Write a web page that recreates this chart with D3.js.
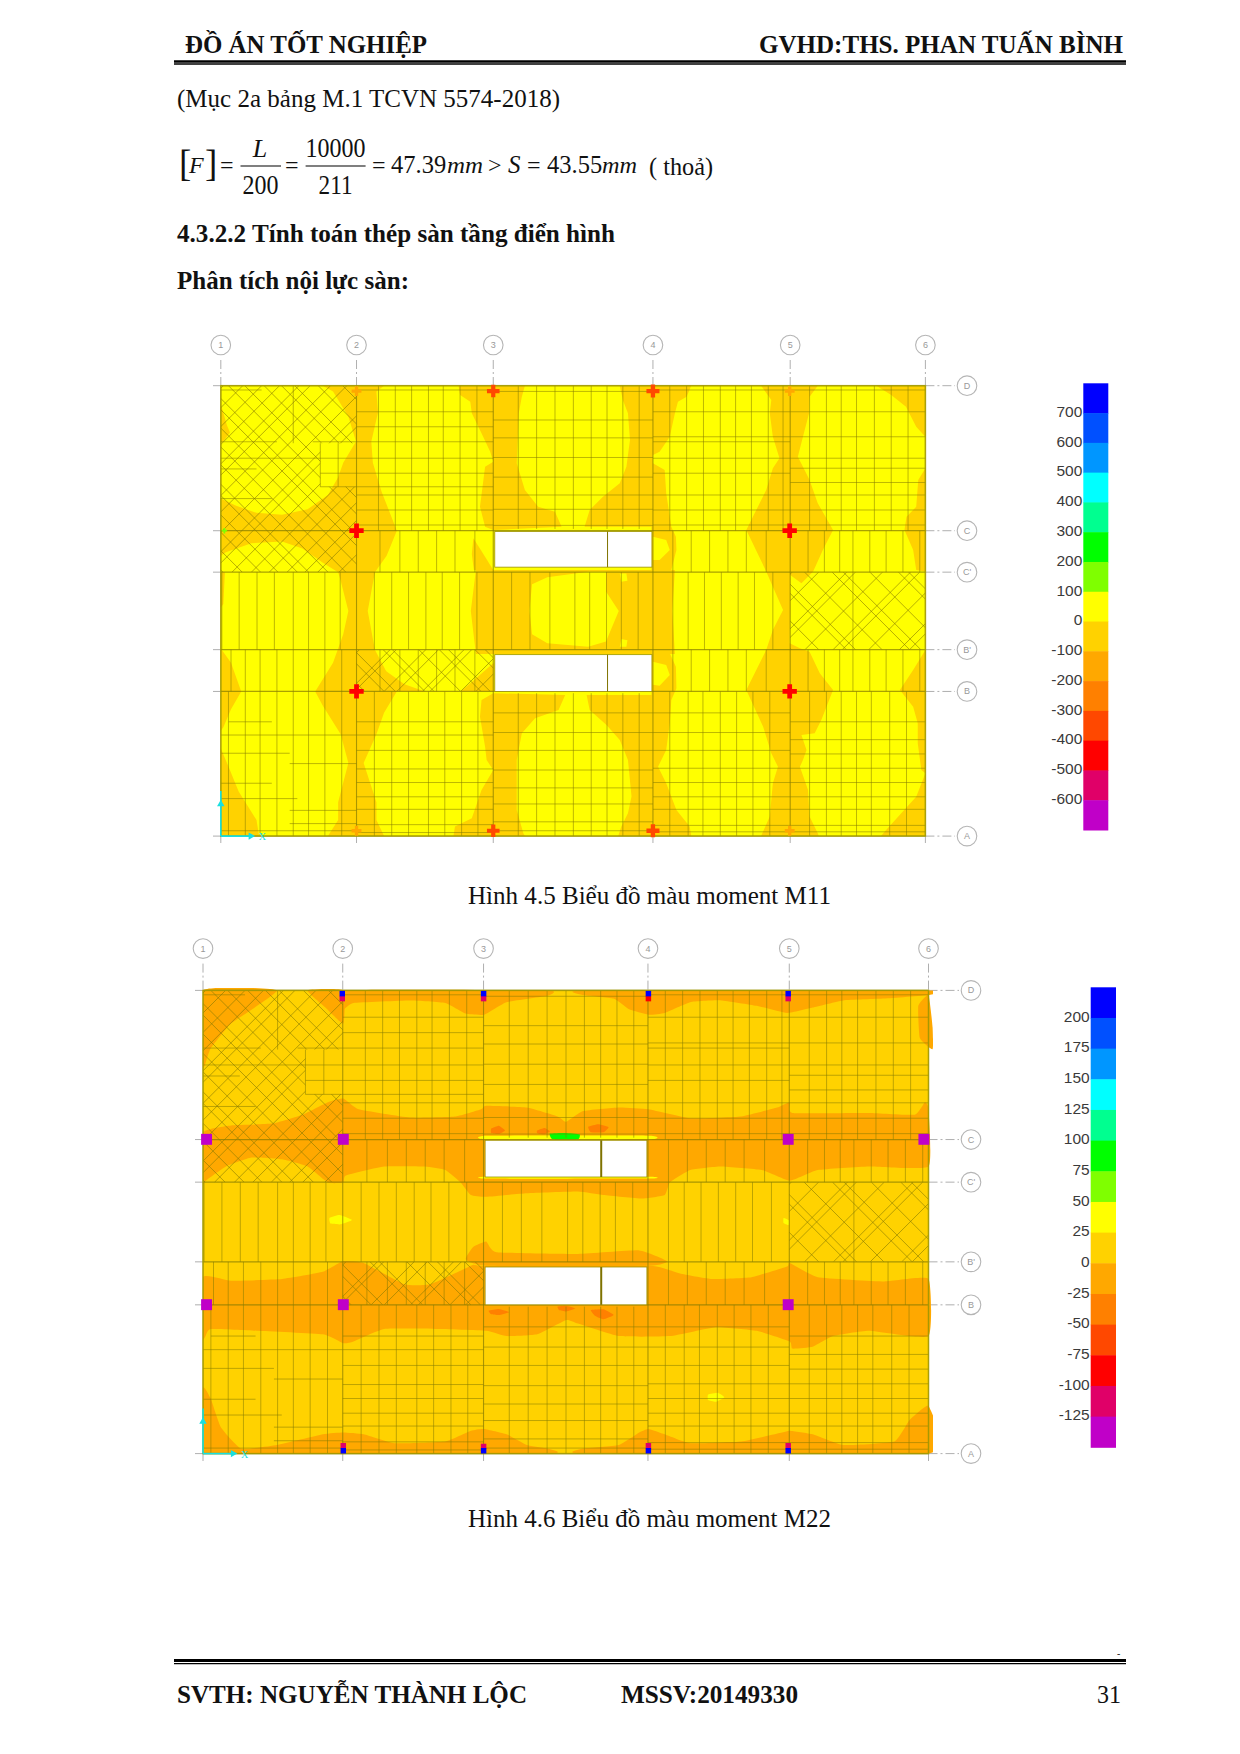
<!DOCTYPE html>
<html>
<head>
<meta charset="utf-8">
<title>Biểu đồ màu moment</title>
<script src="https://cdn.jsdelivr.net/npm/d3@7"></script>
<style>
  body { margin: 0; background: #fff; }
  text { font-family: "Liberation Serif", serif; fill: #111; }
  .legend text { font-family: "Liberation Sans", sans-serif; fill: #3a3a3a; }
  .bubble text { font-family: "Liberation Sans", sans-serif; fill: #999; }
</style>
</head>
<body>
<div id="page"></div>
<script>
// legend bands, blue at the top, magenta at the bottom
var bandColors = ["#0000ff","#0050ff","#0096ff","#00ffff","#00ff90","#00ff00","#7fff00","#ffff00","#ffd200","#ffa800","#ff8000","#ff4800","#ff0000","#e00068","#c000c8"];
var m11Ticks = [700,600,500,400,300,200,100,0,-100,-200,-300,-400,-500,-600];
var m22Ticks = [200,175,150,125,100,75,50,25,0,-25,-50,-75,-100,-125];

var xGridNames = ["1","2","3","4","5","6"];
var yGridNames = ["D","C","C'","B'","B","A"];

// plan units below are about 3cm, origin at grid A/1
var gridX = [0,266,534,847,1116,1381];
var gridY = [1261,855,739,522,405,0];
var openings = [[537,753,845,853],[537,405,845,508]];
var mullionX = 758;

// M11 contours, band -100..0 on a 0..100 background
var m11Orange = [
  [[200,1261],[320,1261],[305,1245],[308,1185],[295,1105],[298,1045],[315,965],[345,855],[325,785],[302,739],[288,630],[302,522],[345,405],[320,345],[305,285],[280,205],[305,95],[305,45],[320,0],[210,0],[230,45],[230,95],[250,205],[235,285],[200,365],[185,405],[220,485],[240,565],[250,630],[235,715],[230,739],[200,765],[160,805],[120,825],[60,820],[10,795],[0,785],[0,945],[30,925],[70,905],[120,900],[170,915],[210,955],[230,1005],[240,1045],[265,1105],[250,1175],[220,1245]],
  [[265,522],[360,425],[400,405],[265,405]],
  [[535,485],[495,435],[470,405],[535,405]],
  [[0,0],[75,0],[70,45],[35,125],[15,195],[0,245]],
  [[0,525],[20,485],[40,405],[20,355],[5,305],[0,295]],
  [[0,739],[8,739],[5,650],[0,640]],
  [[0,1210],[12,1150],[18,1130],[8,1110],[0,1100]],
  [[466,1261],[469,1235],[489,1216],[492,1184],[511,1128],[528,1076],[534,1048],[518,1034],[508,922],[518,866],[534,857],[668,866],[655,908],[622,922],[596,969],[580,1044],[584,1184],[590,1230],[596,1261]],
  [[495,834],[510,800],[534,745],[496,745],[492,790]],
  [[782,1261],[922,1261],[913,1230],[896,1216],[890,1184],[880,1118],[860,1076],[847,1067],[847,1044],[870,1025],[873,960],[883,866],[892,838],[893,801],[883,745],[844,745],[844,866],[713,866],[723,913],[749,950],[782,988],[795,1034],[802,1109],[798,1184],[788,1221]],
  [[500,745],[890,745],[885,630],[890,510],[500,510],[490,630]],
  [[534,400],[675,395],[662,353],[616,330],[590,288],[580,213],[580,73],[593,8],[596,0],[456,0],[459,27],[492,50],[511,129],[534,185],[521,213],[518,250],[508,334],[511,381]],
  [[717,395],[723,353],[756,311],[782,269],[798,213],[805,111],[798,64],[785,27],[779,0],[922,0],[919,27],[893,73],[873,148],[857,194],[873,241],[880,316],[883,381],[893,414],[892,474],[880,512],[844,512],[844,395]],
  [[1170,1261],[1154,1230],[1153,1184],[1141,1118],[1131,1062],[1154,997],[1170,932],[1200,857],[1180,801],[1161,741],[1138,708],[1116,731],[1116,633],[1115,540],[1135,526],[1154,516],[1174,456],[1200,409],[1177,325],[1164,288],[1138,283],[1148,241],[1141,213],[1135,194],[1151,129],[1154,55],[1170,8],[1172,0],[1059,0],[1076,55],[1082,148],[1092,194],[1079,232],[1063,306],[1030,409],[1069,521],[1082,577],[1102,633],[1082,698],[1069,741],[1030,857],[1069,969],[1082,1030],[1095,1058],[1082,1118],[1076,1184],[1079,1221],[1059,1261]],
  [[1285,1261],[1381,1261],[1381,1118],[1363,1146],[1343,1202],[1314,1235]],
  [[1381,1030],[1367,997],[1363,922],[1344,894],[1340,857],[1357,801],[1363,745],[1381,741]],
  [[1381,521],[1357,465],[1331,409],[1357,362],[1366,316],[1366,260],[1373,185],[1381,176]],
  [[1381,176],[1363,110],[1304,17],[1294,0],[1381,0]]
];
// pockets that go back to the 0..100 band
var m11Yellow = [
  [[610,705],[640,725],[720,740],[755,740],[755,685],[780,630],[755,545],[720,530],[640,540],[610,565],[605,630]],
  [[847,838],[873,829],[880,801],[860,773],[847,773]],
  [[847,488],[873,479],[880,451],[860,421],[847,424]],
  [[782,735],[795,735],[797,715],[785,712]],
  [[782,530],[795,530],[797,548],[785,552]]
];
// moment peaks at the columns [x, y, value]
var m11Peaks = [[266,855,-450],[1115,855,-450],[266,405,-450],[1115,405,-450],
  [534,1246,-320],[847,1246,-350],[534,15,-320],[847,15,-350],
  [266,1246,-150],[1115,1246,-150],[266,15,-150],[1115,15,-150],
  [7,855,150]];

// M22 contours in the second drawing's own units (0..1422, 0..1297)
var m22Orange = [
  [[0,899],[55,919],[135,924],[195,949],[245,984],[275,994],[305,964],[405,941],[495,944],[545,964],[555,974],[635,969],[695,944],[712,929],[745,959],[815,969],[873,964],[955,939],[1055,944],[1125,969],[1150,984],[1155,954],[1305,954],[1395,949],[1415,984],[1422,964],[1422,804],[1305,804],[1205,794],[1150,764],[1095,794],[1015,804],[955,794],[915,759],[905,724],[860,714],[785,724],[735,734],[635,729],[555,719],[525,724],[505,759],[475,794],[435,804],[355,804],[280,779],[275,759],[245,759],[205,804],[155,824],[95,829],[45,804],[5,764],[0,759]],
  [[0,494],[55,484],[155,489],[235,509],[275,539],[315,534],[395,474],[445,474],[515,519],[530,529],[555,526],[875,526],[935,504],[995,489],[1075,494],[1145,524],[1150,534],[1205,494],[1335,482],[1422,489],[1422,329],[1305,344],[1235,329],[1195,299],[1155,294],[1150,314],[1085,344],[1005,354],[915,329],[815,329],[735,364],[712,374],[655,334],[595,329],[555,344],[455,349],[355,349],[295,314],[275,309],[235,334],[105,344],[15,349],[5,329],[0,324]],
  [[515,544],[530,579],[555,594],[575,564],[735,559],[855,569],[910,539],[875,526],[555,526]],
  [[275,1297],[675,1297],[675,1282],[595,1264],[551,1229],[515,1232],[475,1262],[405,1269],[295,1262],[275,1244]],
  [[745,1297],[1422,1297],[1422,1284],[1335,1274],[1255,1269],[1195,1249],[1145,1234],[1085,1254],[1015,1269],[955,1264],[905,1234],[873,1229],[835,1244],[805,1274],[745,1284]],
  [[0,1297],[145,1297],[55,1204],[15,1134],[5,1094],[0,1084]],
  [[205,1297],[275,1297],[275,1204],[240,1249]],
  [[1402,1254],[1422,1284],[1430,1194],[1430,1132],[1405,1164]],
  [[0,184],[15,154],[35,74],[75,14],[145,24],[235,54],[275,59],[315,54],[375,29],[475,34],[525,64],[551,69],[595,54],[635,24],[675,14],[675,0],[0,0]],
  [[745,0],[745,14],[815,24],[855,59],[873,69],[905,54],[955,29],[1055,34],[1135,59],[1150,64],[1195,54],[1255,24],[1355,34],[1385,94],[1422,134],[1422,0]]
];
// small patches around the openings and mid spans: value then outline
var m22PatchValues = [30,30,30,-40,-40,-40,-40,-40,-40,40,40,90];
var m22Patches = [
  [[248,660],[268,668],[292,654],[270,642],[250,644]],
  [[990,165],[1010,170],[1022,158],[1005,145],[990,150]],
  [[1138,660],[1148,654],[1148,640],[1138,646]],
  [[565,910],[580,918],[592,905],[580,895],[565,897]],
  [[655,905],[670,912],[680,902],[668,894],[655,897]],
  [[755,915],[775,922],[795,914],[785,900],[760,900]],
  [[560,400],[580,405],[600,396],[580,388],[565,390]],
  [[695,412],[712,414],[730,406],[712,398],[698,402]],
  [[760,402],[785,404],[805,388],[785,376],[768,386]],
  [[555,890],[875,890],[875,880],[555,880]],
  [[555,775],[875,775],[875,770],[555,770]],
  [[680,896],[710,898],[738,894],[735,880],[685,880]]
];
var m22BigPeaks = [[7,880,-130],[275,880,-130],[1147,880,-130],[1413,880,-130],[7,417,-130],[275,417,-130],[1147,417,-130]];
var m22SmallPeaks = [[273,1274,-110],[550,1274,-110],[873,1274,-90],[1147,1274,-120],[273,1288,220],[550,1288,220],[873,1288,220],[1147,1288,220],
  [275,22,-120],[550,20,-120],[873,22,-110],[1147,22,-120],[275,8,220],[550,8,220],[873,8,200],[1147,8,220]];

// slab strips: vertical lines [x, y0, y1], horizontal lines [y, x0, x1]
function col(xs, y0, y1) { return xs.map(function(x){ return [x, y0, y1]; }); }
function row(ys, x0, x1) { return ys.map(function(y){ return [y, x0, x1]; }); }
var meshV = [].concat(
  col([2,36,71,105,142,172,204,234,301,335,368,402,434,468,502,570,606,645,694,723,756,785,818,886,916,948,981,1014,1046,1082],522,739),
  col([312,351,387,423,459,498,886,922,958,994,1030,1069,1151,1183,1213,1239,1272,1304,1337,1370],739,855),
  col([312,351,387,423,459,498,886,922,958,994,1030,1069,1151,1183,1213,1239,1272,1304,1337,1370],405,522),
  col([20,48,77,110,142,172,204,237],405,522),
  col([309,342,374,407,436,469,502],855,1261),
  col([583,619,655,691,726,757,788,820],860,1261),
  col([880,913,946,979,1009,1040,1073,1102,1154,1187,1216,1246,1281,1314,1347],855,1261),
  col([142],1100,1261),
  col([195,230],978,1100),
  col([15,48,77,110,142,172,204,237],0,405),
  col([301,335,368,407,439,472,504],0,405),
  col([583,619,655,691,726,757,788,820],0,400),
  col([880,916,945,979,1011,1043,1076,1154,1187,1216,1246,1275,1311,1344],0,405),
  col([1239],522,739)
);
var meshH = [].concat(
  row([1249,1188,1146,1104,1058,1016,978,955,913,871],266,534),
  row([1245,1165,1115,1060,1005,955,915,870],534,847),
  row([1249,1188,1118,1104,1058,1016,955,913,871],847,1116),
  row([1249,1188,1118,1058,1030,990,955,913,871],1116,1381),
  row([1249],0,80),
  row([1104],0,110),row([1104],180,266),row([1058],0,266),row([1028],0,70),row([1016,978],195,266),row([945],0,100),
  row([320,283,240,188,150,110,75,32,10],266,534),
  row([345,290,240,185,135,90,40,15],534,847),
  row([345,290,240,190,150,110,75,30,12],847,1116),
  row([320,270,230,190,150,110,75,30,12],1116,1381),
  row([320],15,100),row([283],0,266),row([232],0,135),row([203],135,266),row([148],0,100),row([105],0,150),row([72],135,266),row([35],135,266),row([15],0,266)
);

// cross bracing mesh: x where each diagonal meets the panel's lower edge
var hatchPanels = [
  { box: [0,739,266,1261], hole: [195,978,266,1100],
    up: [-360,-322,-285,-250,-212,-190,-150,-118,-78,-40,-18,22,60,95,130,165,190,232],
    down: [4,42,78,112,150,172,210,245,282,318,340,380,412,450,484,510,556,604] },
  { box: [266,405,534,522], hole: null,
    up: [190,250,262,320,345,395,410,470,500],
    down: [268,282,320,342,400,418,470,510,528,580,600] },
  { box: [1116,522,1381,739], hole: null,
    up: [968,1020,1075,1092,1145,1200,1218,1270,1330,1350],
    down: [1118,1172,1226,1244,1296,1350,1372,1424,1480,1500] }
];
var hatchSlope = 1.43;

// page text
var headerLeft = "ĐỒ ÁN TỐT NGHIỆP", headerRight = "GVHD:THS. PHAN TUẤN BÌNH";
var noteLine = "(Mục 2a bảng M.1 TCVN 5574-2018)";
var heading1 = "4.3.2.2 Tính toán thép sàn tầng điển hình", heading2 = "Phân tích nội lực sàn:";
var caption1 = "Hình 4.5 Biểu đồ màu moment M11", caption2 = "Hình 4.6 Biểu đồ màu moment M22";
var footerName = "SVTH: NGUYỄN THÀNH LỘC", footerId = "MSSV:20149330", pageNumber = "31";

var svg = d3.select("#page").append("svg").attr("width",1240).attr("height",1754).style("display","block");
svg.append("rect").attr("width",1240).attr("height",1754).attr("fill","#fff");

function txt(s, x, y, size, o) {
  o = o || {};
  var t = svg.append("text").attr("x",x).attr("y",y).attr("font-size",size).text(s);
  if (o.bold) t.attr("font-weight","bold");
  if (o.italic) t.attr("font-style","italic");
  if (o.anchor) t.attr("text-anchor",o.anchor);
  if (o.len) t.attr("textLength",o.len).attr("lengthAdjust","spacingAndGlyphs");
  return t;
}

function rule(y, w) {
  svg.append("line").attr("x1",174).attr("x2",1126).attr("y1",y).attr("y2",y).attr("stroke","#000").attr("stroke-width",w);
}

// header and footer
txt(headerLeft,185,53,25.5,{bold:true,len:242});
txt(headerRight,759,53,25.5,{bold:true,len:364});
rule(61.5,2.4); rule(64,1.3);
rule(1660.5,3); rule(1663.7,1.3);
txt(footerName,177,1703,25.5,{bold:true,len:350});
txt(footerId,621,1703,25.5,{bold:true,len:177});
txt(pageNumber,1097,1703,25.5,{len:24});
txt("-",1117,1657,10);

// body text
txt(noteLine,177,107,25.5,{len:383});
txt(heading1,177,242,25.5,{bold:true,len:438});
txt(heading2,177,289,25.5,{bold:true,len:232});
txt(caption1,468,904,25.5,{len:363});
txt(caption2,468,1527,25.5,{len:363});

// formula
txt("[",179,176,37);
txt("F",189,173,24,{italic:true});
txt("]",205,176,37);
txt("=",220,173,24);
txt("L",260,157,26,{italic:true,anchor:"middle"});
svg.append("line").attr("x1",240.5).attr("x2",281).attr("y1",166).attr("y2",166).attr("stroke","#000").attr("stroke-width",1.2);
txt("200",260.5,194,27,{anchor:"middle",len:36});
txt("=",285,173,24);
txt("10000",335.6,157,27,{anchor:"middle",len:60});
svg.append("line").attr("x1",305.6).attr("x2",365.6).attr("y1",166).attr("y2",166).attr("stroke","#000").attr("stroke-width",1.2);
txt("211",335.6,194,27,{anchor:"middle",len:34});
txt("=",372,173,24);
txt("47.39",391,173,24.5);
txt("mm",447,173,24,{italic:true,len:36});
txt(">",488,173,24);
txt("S",508,173,25,{italic:true});
txt("=",527,173,24);
txt("43.55",547,173,24.5);
txt("mm",602,173,24,{italic:true,len:35});
txt("( thoả)",649,175,25.5,{len:64});

var area = d3.line().curve(d3.curveLinearClosed);
var smooth = d3.line().curve(d3.curveCardinalClosed.tension(0.6));

function gridBubbles(g, x, y, topY, rightX, lowY, leftX) {
  var grid = g.append("g").attr("fill","none").attr("stroke","#9a9a9a").attr("stroke-width",0.8);
  gridX.forEach(function(v){
    grid.append("line").attr("x1",x(v)).attr("x2",x(v)).attr("y1",topY+15).attr("y2",y(gridY[0])).attr("stroke-dasharray","9,3,2,3");
    grid.append("line").attr("x1",x(v)).attr("x2",x(v)).attr("y1",y(0)).attr("y2",lowY);
  });
  gridY.forEach(function(v){
    grid.append("line").attr("x1",x(gridX[5])).attr("x2",rightX-12).attr("y1",y(v)).attr("y2",y(v)).attr("stroke-dasharray","9,3,2,3");
    grid.append("line").attr("x1",leftX).attr("x2",x(0)).attr("y1",y(v)).attr("y2",y(v));
  });
  var b = g.append("g").attr("class","bubble");
  gridX.forEach(function(v,i){
    b.append("circle").attr("cx",x(v)).attr("cy",topY).attr("r",9.8).attr("fill","#fff").attr("stroke","#b5b5b5").attr("stroke-width",1.1);
    b.append("text").attr("x",x(v)).attr("y",topY+3).attr("text-anchor","middle").attr("font-size",9).text(xGridNames[i]);
  });
  gridY.forEach(function(v,i){
    b.append("circle").attr("cx",rightX).attr("cy",y(v)).attr("r",9.8).attr("fill","#fff").attr("stroke","#b5b5b5").attr("stroke-width",1.1);
    b.append("text").attr("x",rightX).attr("y",y(v)+3).attr("text-anchor","middle").attr("font-size",9).text(yGridNames[i]);
  });
}

function drawMesh(g, x, y, id) {
  var line = function(sel, x1, y1, x2, y2, w) {
    sel.append("line").attr("x1",x(x1)).attr("y1",y(y1)).attr("x2",x(x2)).attr("y2",y(y2)).attr("stroke-width",w);
  };
  var m = g.append("g").attr("stroke","#857a00").attr("stroke-opacity",0.6).attr("fill","none");
  meshV.forEach(function(d){ line(m,d[0],d[1],d[0],d[2],0.9); });
  meshH.forEach(function(d){ line(m,d[1],d[0],d[2],d[0],0.9); });

  hatchPanels.forEach(function(p,i){
    var b = p.box, cid = id+"-hatch"+i;
    var pts = [[b[0],b[1]],[b[2],b[1]],[b[2],b[3]],[b[0],b[3]]];
    if (p.hole) {
      var h = p.hole;
      pts = [[b[0],b[1]],[b[2],b[1]],[h[2],h[1]],[h[0],h[1]],[h[0],h[3]],[h[2],h[3]],[b[2],b[3]],[b[0],b[3]]];
    }
    g.append("clipPath").attr("id",cid).append("path")
      .attr("d",d3.line()(pts.map(function(q){ return [x(q[0]),y(q[1])]; }))+"Z");
    var hg = m.append("g").attr("clip-path","url(#"+cid+")");
    var dy = b[3]-b[1];
    p.up.forEach(function(x0){ line(hg,x0,b[1],x0+dy/hatchSlope,b[3],1); });
    p.down.forEach(function(x0){ line(hg,x0,b[1],x0-dy/hatchSlope,b[3],1); });
  });

  // grid lines and slab edge sit on top, a bit heavier
  var e = g.append("g").attr("stroke","#857a00").attr("stroke-opacity",0.7).attr("fill","none");
  gridX.forEach(function(v){ line(e,v,0,v,gridY[0],1.1); });
  gridY.forEach(function(v){ line(e,0,v,gridX[5],v,1.2); });
  e.append("rect").attr("x",x(0)).attr("y",y(gridY[0])).attr("width",x(gridX[5])-x(0)).attr("height",y(0)-y(gridY[0])).attr("stroke","#a8a000").attr("stroke-width",1.6);
}

function drawOpenings(g, x, y, w) {
  openings.forEach(function(o){
    g.append("rect").attr("x",x(o[0])).attr("y",y(o[3])).attr("width",x(o[2])-x(o[0])).attr("height",y(o[1])-y(o[3]))
      .attr("fill","#fff").attr("stroke","#9a9000").attr("stroke-width",0.8);
    g.append("line").attr("x1",x(mullionX)).attr("x2",x(mullionX)).attr("y1",y(o[3])).attr("y2",y(o[1])).attr("stroke","#7f7300").attr("stroke-width",w);
  });
}

function drawPeaks(g, data, x, y, color, type, size) {
  g.selectAll(null).data(data).enter().append("path")
    .attr("transform",function(d){ return "translate("+x(d[0])+","+y(d[1])+")"; })
    .attr("d",function(d){ return d3.symbol().type(type).size(size(d[2]))(); })
    .attr("fill",function(d){ return color(d[2]); });
}

function drawAxesGlyph(g, x, y) {
  var c = "#19dfe0", ox = x(0), oy = y(0);
  g.append("line").attr("x1",ox).attr("x2",ox).attr("y1",oy).attr("y2",oy-45).attr("stroke",c).attr("stroke-width",1.6);
  g.append("line").attr("x1",ox).attr("x2",ox+32).attr("y1",oy).attr("y2",oy).attr("stroke",c).attr("stroke-width",1.6);
  g.append("path").attr("d",d3.symbol().type(d3.symbolTriangle).size(24)()).attr("transform","translate("+ox+","+(oy-32)+")").attr("fill",c);
  g.append("path").attr("d",d3.symbol().type(d3.symbolTriangle).size(24)()).attr("transform","translate("+(ox+30)+","+oy+") rotate(90)").attr("fill",c);
  g.append("text").attr("x",ox+38).attr("y",oy+4).attr("font-size",10).style("fill",c).text("X");
}

function legend(ticks, top, bottom, left, right, hi, lo) {
  var y = d3.scaleLinear().domain([hi,lo]).range([top,bottom]);
  var step = ticks[0]-ticks[1];
  var g = svg.append("g").attr("class","legend");
  g.selectAll("rect").data(bandColors).enter().append("rect")
    .attr("x",left).attr("width",right-left)
    .attr("y",function(d,i){ return y(hi-i*step); })
    .attr("height",function(d,i){ return y(hi-(i+1)*step)-y(hi-i*step)+0.5; })
    .attr("fill",function(d){ return d; });
  var axis = d3.axisLeft(y).tickValues(ticks).tickSize(0).tickPadding(1).tickFormat(String);
  g.append("g").attr("transform","translate("+left+",-1.7)").call(axis)
    .call(function(s){ s.select(".domain").remove(); s.selectAll("text").attr("font-size",15.5).attr("font-family",null); });
}

// colours for each contour follow the legend of that drawing
function bandScale(ticks) {
  return d3.scaleThreshold().domain(ticks.slice().reverse()).range(bandColors.slice().reverse());
}

/* --- M11 --- */
var x11 = d3.scaleLinear().domain([0,1381]).range([220.8,925.4]);
var y11 = d3.scaleLinear().domain([0,1261]).range([836.1,385.7]);
var c11 = bandScale(m11Ticks);
var g11 = svg.append("g");
gridBubbles(g11,x11,y11,345,967,843,213);
g11.append("rect").attr("x",x11(0)).attr("y",y11(1261)).attr("width",x11(1381)-x11(0)).attr("height",y11(0)-y11(1261)).attr("fill",c11(50));
g11.selectAll("path.o").data(m11Orange).enter().append("path").attr("class","o")
  .attr("d",function(d){ return area(d.map(function(p){ return [x11(p[0]),y11(p[1])]; })); }).attr("fill",c11(-50));
g11.selectAll("path.y").data(m11Yellow).enter().append("path").attr("class","y")
  .attr("d",function(d){ return area(d.map(function(p){ return [x11(p[0]),y11(p[1])]; })); }).attr("fill",c11(50));
drawMesh(g11,x11,y11,"m11");
drawOpenings(g11,x11,y11,1);
drawPeaks(g11,m11Peaks,x11,y11,c11,d3.symbolCross,function(v){ return v > 0 ? 16 : 24+Math.abs(v)*0.2; });
drawAxesGlyph(g11,x11,y11);
legend(m11Ticks,383.3,830,1083.3,1108.3,800,-700);

/* --- M22 --- */
var x22 = d3.scaleLinear().domain([0,1381]).range([203,928.5]);
var y22 = d3.scaleLinear().domain([0,1261]).range([1453.6,990.4]);
var xc22 = d3.scaleLinear().domain([0,1422]).range([203,928.5]);
var yc22 = d3.scaleLinear().domain([0,1297]).range([1453.6,990.4]);
var c22 = bandScale(m22Ticks);
var g22 = svg.append("g");
gridBubbles(g22,x22,y22,948.6,971,1461,195);
g22.append("clipPath").attr("id","m22-clip").append("rect").attr("x",203).attr("y",988).attr("width",730).attr("height",466);
g22.append("rect").attr("x",x22(0)).attr("y",y22(1261)).attr("width",x22(1381)-x22(0)).attr("height",y22(0)-y22(1261)).attr("fill",c22(10));
var f22 = g22.append("g").attr("clip-path","url(#m22-clip)");
f22.selectAll("path.o").data(m22Orange).enter().append("path").attr("class","o")
  .attr("d",function(d){ return smooth(d.map(function(p){ return [xc22(p[0]),yc22(p[1])]; })); }).attr("fill",c22(-10));
f22.selectAll("path.p").data(m22Patches).enter().append("path").attr("class","p")
  .attr("d",function(d){ return smooth(d.map(function(p){ return [xc22(p[0]),yc22(p[1])]; })); })
  .attr("fill",function(d,i){ return c22(m22PatchValues[i]); });
drawMesh(g22,x22,y22,"m22");
drawOpenings(g22,x22,y22,2);
drawPeaks(g22,m22BigPeaks,xc22,yc22,c22,d3.symbolSquare,function(){ return 120; });
drawPeaks(g22,m22SmallPeaks,xc22,yc22,c22,d3.symbolSquare,function(){ return 30; });
drawAxesGlyph(g22,x22,y22);
legend(m22Ticks,987.3,1447.3,1090.7,1116,225,-150);
</script>
</body>
</html>
